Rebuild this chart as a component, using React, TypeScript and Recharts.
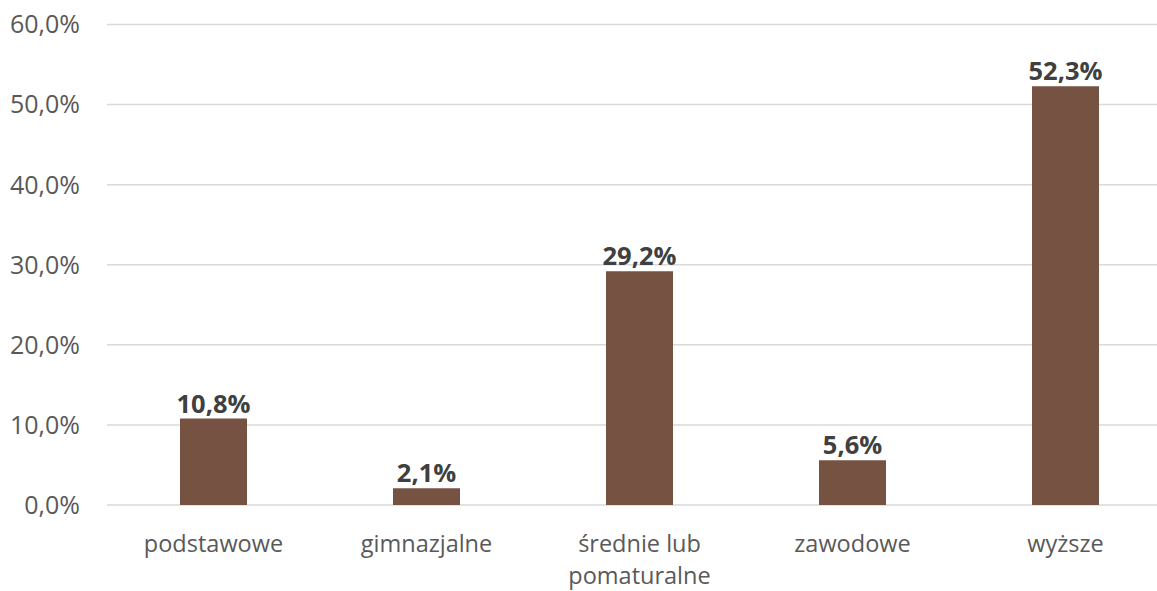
import React from "react";
import { BarChart, Bar, XAxis, YAxis, CartesianGrid, LabelList } from "recharts";

const categories = ["podstawowe", "gimnazjalne", "średnie lub\npomaturalne", "zawodowe", "wyższe"];
const values = [10.8, 2.1, 29.2, 5.6, 52.3];
const yTicks = [0, 10, 20, 30, 40, 50, 60];

const data = categories.map((c, i) => ({ name: c, value: values[i] }));

const fmt = (v: number) => v.toFixed(1).replace(".", ",") + "%";

const FONT = "'Open Sans', 'Noto Sans', sans-serif";

const XTick = (props: any) => {
  const { x, y, payload } = props;
  const lines = String(payload.value).split("\n");
  return (
    <g>
      {lines.map((l, i) => (
        <text
          key={i}
          x={x}
          y={y + 47 + i * 31.8}
          textAnchor="middle"
          fill="#595959"
          fontSize={23.5}
          fontFamily={FONT}
        >
          {l}
        </text>
      ))}
    </g>
  );
};

export default function App() {
  return (
    <div style={{ position: "absolute", left: 0, top: 0, width: 1157, height: 591, overflow: "hidden", background: "#fff" }}>
      <BarChart
        width={1172}
        height={591}
        data={data}
        margin={{ top: 24.5, right: 0, bottom: 0, left: 0 }}
      >
        <CartesianGrid vertical={false} stroke="#D9D9D9" strokeWidth={1.5} />
        <XAxis
          dataKey="name"
          axisLine={false}
          tickLine={false}
          tickSize={0}
          tickMargin={0}
          height={86}
          interval={0}
          tick={<XTick />}
        />
        <YAxis
          domain={[0, 60]}
          ticks={yTicks}
          width={107}
          axisLine={false}
          tickLine={false}
          tickSize={0}
          tickMargin={27}
          tickFormatter={fmt}
          tick={{ fill: "#595959", fontSize: 25, fontFamily: FONT }}
        />
        <Bar dataKey="value" fill="#765243" barSize={67} isAnimationActive={false}>
          <LabelList
            dataKey="value"
            position="top"
            offset={6}
            formatter={(v: any) => fmt(Number(v))}
            style={{ fill: "#404040", fontSize: 25.5, fontWeight: 700, fontFamily: FONT }}
          />
        </Bar>
      </BarChart>
    </div>
  );
}
